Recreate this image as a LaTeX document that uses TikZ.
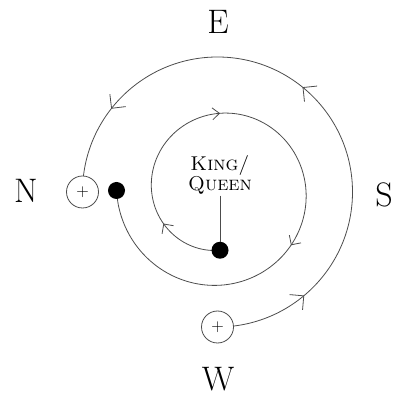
\documentclass[tikz,border=0pt]{standalone}
\usetikzlibrary{arrows.meta, decorations.markings, backgrounds}

\begin{document}
\begin{tikzpicture}[
    x=1pt, y=1pt,
    compass/.style={inner sep=0pt, font=\fontsize{34}{36}\selectfont},
    plusnode/.style={circle, draw=black!70, line width=0.8pt, fill=white, minimum size=32pt, inner sep=0pt, font=\fontsize{17}{17}\selectfont},
    dotnode/.style={circle, fill=black, minimum size=17pt, inner sep=0pt},
    orbit/.style={draw=black!70, line width=0.8pt},
    inner marks/.style={decoration={markings,
        mark=at position 0.102 with {\arrow{Straight Barb[length=7pt, width=14pt]}},
        mark=at position 0.336 with {\arrow{Straight Barb[length=7pt, width=12pt]}},
        mark=at position 0.626 with {\arrow{Straight Barb[length=7pt, width=14pt]}}},
        postaction={decorate}},
    outer marks/.style={decoration={markings,
        mark=at position 0.148 with {\arrow{Straight Barb[length=10pt, width=20pt]}},
        mark=at position 0.522 with {\arrow{Straight Barb[length=10pt, width=20pt]}},
        mark=at position 0.859 with {\arrow{Straight Barb[length=10pt, width=20pt]}}},
        postaction={decorate}}
]
    \useasboundingbox (0,0) rectangle (396,396);

    % Compass letters
    \node[compass] (e) at (218,374) {E};
    \node[compass] (n) at (26,205) {N};
    \node[compass] (s) at (384,201) {S};
    \node[compass] (w) at (218,17) {W};

    % Pieces
    \node[plusnode] (nplus) at (82.5,204) {$+$};
    \node[plusnode] (wplus) at (217.5,69) {$+$};
    \node[dotnode] (ndot) at (116.5,205.5) {};
    \node[dotnode] (kdot) at (220,145.75) {};
    \node[align=center, inner sep=1pt, font=\fontsize{20}{14}\selectfont] (kq) at (220,221) {\textsc{King/}\\\textsc{Queen}};

    \draw[orbit] (kq) -- (kdot);

    \begin{scope}[on background layer]
        % Inner spiral
        \draw[orbit, inner marks] (kdot.center) -- plot[domain=2:448, samples=75, smooth]
            ({220 - (59.75 + 0.0972*\x)*sin(\x)}, {205.5 - (59.75 + 0.0972*\x)*cos(\x)}) -- (ndot.center);
        % Outer arc
        \draw[orbit, outer marks] (wplus.center) arc[start angle=-90, end angle=180, radius=135];
    \end{scope}
\end{tikzpicture}
\end{document}
